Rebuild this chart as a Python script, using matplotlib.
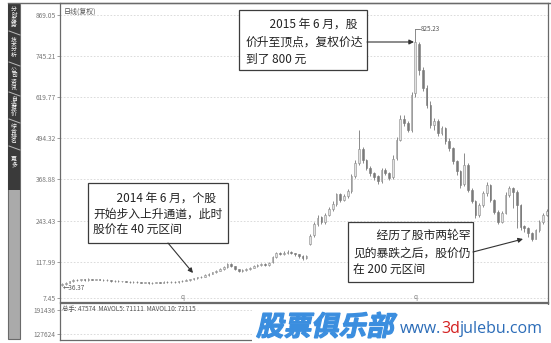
import matplotlib
matplotlib.use('Agg')
import matplotlib.pyplot as plt
import numpy as np
from matplotlib.patches import Rectangle, PathPatch, FancyArrowPatch
from matplotlib.lines import Line2D
from matplotlib.textpath import TextPath
from matplotlib.font_manager import FontProperties
from matplotlib.transforms import Affine2D

plt.rcParams['font.family'] = ['Noto Sans CJK SC', 'DejaVu Sans']

# 日线(复权) K线数据，从图上读出的估计值
opens = [48, 50, 54, 58, 63, 61, 64, 62, 65, 63,
         64, 63, 61, 62, 59, 60, 58, 59, 57, 56,
         57, 55, 54, 55, 53, 54, 55, 54, 56, 55,
         57, 56, 58, 60, 61, 64, 67, 70, 73, 78,
         82, 86, 91, 96, 101, 111, 104, 95, 89, 92,
         96, 100, 105, 107, 112, 109, 116, 132, 144, 141,
         146, 148, 144, 141, 136, 130, 172, 198, 232, 253,
         238, 260, 278, 293, 324, 306, 318, 334, 380, 420,
         460, 428, 402, 387, 378, 364, 398, 388, 376, 434,
         490, 554, 541, 520, 631, 781, 702, 648, 596, 535,
         546, 510, 525, 484, 463, 424, 393, 356, 412, 337,
         302, 260, 291, 326, 352, 306, 270, 240, 266, 321,
         341, 331, 290, 226, 220, 205, 188, 214, 240, 260]
closes = [50, 54, 58, 62, 61, 64, 62, 65, 63, 64,
          63, 61, 62, 59, 60, 58, 59, 57, 56, 57,
          55, 54, 55, 53, 54, 55, 54, 56, 55, 57,
          56, 58, 60, 61, 64, 67, 70, 73, 78, 82,
          86, 91, 96, 101, 110, 104, 95, 89, 92, 96,
          100, 105, 107, 112, 109, 114, 131, 144, 141, 146,
          148, 144, 141, 136, 130, 134, 196, 232, 252, 238,
          260, 278, 293, 323, 306, 318, 333, 378, 420, 462,
          427, 402, 387, 377, 364, 397, 387, 374, 432, 488,
          554, 540, 520, 626, 786, 702, 648, 596, 535, 546,
          510, 525, 484, 463, 424, 393, 352, 412, 337, 302,
          260, 291, 326, 352, 306, 270, 240, 265, 321, 341,
          331, 290, 225, 220, 205, 188, 214, 240, 260, 272]
highs = [52, 56, 60, 64, 65, 66, 65, 67, 66, 66,
         66, 64, 64, 63, 61, 61, 60, 60, 58, 59,
         58, 56, 57, 56, 56, 57, 57, 58, 58, 59,
         58, 60, 62, 64, 66, 69, 72, 76, 80, 84,
         88, 93, 98, 104, 114, 114, 106, 97, 95, 98,
         103, 108, 112, 115, 114, 118, 134, 148, 148, 152,
         154, 150, 146, 142, 138, 138, 202, 240, 260, 256,
         265, 284, 303, 328, 326, 324, 340, 386, 428, 519,
         466, 432, 408, 392, 382, 403, 402, 390, 442, 498,
         564, 566, 546, 636, 825.23, 788, 710, 656, 606, 556,
         552, 530, 528, 494, 468, 428, 398, 449, 418, 342,
         306, 296, 332, 360, 356, 310, 275, 272, 329, 347,
         346, 336, 294, 230, 224, 208, 218, 244, 265, 278]
lows = [44, 48, 52, 56, 59, 59, 60, 60, 61, 61,
        61, 59, 59, 57, 57, 56, 56, 55, 54, 54,
        53, 52, 52, 51, 51, 52, 52, 52, 53, 53,
        54, 54, 56, 58, 59, 62, 65, 68, 71, 76,
        80, 84, 89, 94, 99, 101, 92, 86, 87, 90,
        94, 98, 103, 105, 106, 106, 114, 129, 137, 138,
        142, 140, 136, 130, 124, 126, 168, 192, 226, 232,
        234, 256, 272, 288, 300, 302, 313, 328, 372, 412,
        420, 396, 380, 368, 356, 358, 382, 367, 370, 427,
        484, 532, 512, 514, 620, 685, 638, 586, 524, 518,
        500, 504, 476, 456, 414, 382, 343, 350, 330, 296,
        252, 255, 285, 318, 300, 264, 232, 235, 262, 315,
        282, 220, 214, 208, 192, 182, 186, 210, 234, 256]

price_ticks = [7.45, 117.99, 243.43, 368.88, 494.32, 619.77, 745.21, 869.05]
vol_ticks = [127624, 191436]
tabs = ['分时走势', '技术分析', '公司资讯', '自选报价', '综合排名', '更多']

W, H = 551, 343
fig = plt.figure(figsize=(W / 100, H / 100), dpi=100)


def fx(px):
    return px / W


def fy(py):
    return 1 - py / H


# ---- 主图 K线 ----
ax = fig.add_axes([fx(60), fy(302), fx(548) - fx(60), fy(3) - fy(302)])
x = np.arange(len(closes))
o = np.array(opens, dtype=float)
c = np.array(closes, dtype=float)
up = c >= o
kc = '#8a8a8a'
ax.vlines(x, lows, highs, color=kc, lw=0.7, zorder=2)
ax.bar(x[up], np.maximum(c - o, 1.5)[up], bottom=o[up], width=0.45,
       facecolor='#e2e2e2', edgecolor=kc, lw=0.4, zorder=3)
ax.bar(x[~up], (o - c)[~up], bottom=c[~up], width=0.45,
       facecolor='#7a7a7a', edgecolor='#7a7a7a', lw=0.4, zorder=3)
ax.set_xlim(-0.55, len(closes) - 0.7)
ax.set_ylim(-4.6, 905.6)
ax.set_xticks([])
ax.set_yticks(price_ticks)
ax.set_yticklabels([f'{v:.2f}' for v in price_ticks])
ax.tick_params(axis='y', length=2, width=0.5, pad=1, labelsize=4.8,
               colors='#777777')
ax.yaxis.grid(True, ls=(0, (2, 2)), color='#d6d6d6', lw=0.6)
for s in ax.spines.values():
    s.set_color('#6a6a6a')
    s.set_linewidth(0.9)

ax.text(0.5, 880, '日线(复权)', fontsize=5, color='#555555', va='center')
ax.text(0.3, lows[0] - 6, '←36.37', fontsize=4.6, color='#555555', va='center')
imax = int(np.argmax(highs))
ax.plot([imax, imax + 1.2], [highs[imax], highs[imax]], color='#555555', lw=0.5)
ax.text(imax + 1.4, highs[imax], f'{highs[imax]:.2f}', fontsize=4.6,
        color='#555555', va='center')
for qx in [32, 94]:
    ax.text(qx, 12, 'q', fontsize=4.5, color='#777777', ha='center', va='center')

# ---- 成交量副图 ----
vax = fig.add_axes([fx(60), fy(340), fx(548) - fx(60), fy(303) - fy(340)])
vax.set_xlim(0, 1)
vax.set_ylim(112300, 209300)
vax.set_xticks([])
vax.set_yticks(vol_ticks)
vax.set_yticklabels([str(v) for v in vol_ticks])
vax.tick_params(axis='y', length=2, width=0.5, pad=1, labelsize=4.8,
                colors='#777777')
vax.yaxis.grid(True, ls=(0, (2, 2)), color='#d6d6d6', lw=0.6)
for s in vax.spines.values():
    s.set_color('#6a6a6a')
    s.set_linewidth(0.9)
vax.text(0.004, 0.83, '总手: 47574  MAVOL5: 71111  MAVOL10: 72115',
         transform=vax.transAxes, fontsize=4.6, color='#555555', va='center')

# ---- 外框和左侧标签栏 ----
fig.add_artist(Line2D([fx(8), 1], [fy(3), fy(3)], transform=fig.transFigure,
                      color='#6a6a6a', lw=1))
fig.add_artist(Rectangle((fx(8), fy(339)), fx(12), fy(4) - fy(339),
                         transform=fig.transFigure, facecolor='#aaaaaa',
                         edgecolor='#6a6a6a', lw=0.8))
fig.add_artist(Rectangle((fx(8), fy(190)), fx(12), fy(4) - fy(190),
                         transform=fig.transFigure, facecolor='#3a3a3a',
                         edgecolor='none'))
tab_y = [18, 48, 79, 107, 134, 162]
for ty, t in zip(tab_y, tabs):
    fig.text(fx(14), fy(ty), '\n'.join(t), fontsize=4.2, color='white',
             ha='center', va='center', linespacing=1.0)
for sy in [33, 64, 94, 121, 148]:
    fig.add_artist(Line2D([fx(9), fx(20)], [fy(sy - 2), fy(sy + 2)],
                          transform=fig.transFigure, color='#bbbbbb', lw=0.7))


# ---- 说明文字框 ----
def box(x0, y0, x1, y1):
    fig.add_artist(Rectangle((fx(x0), fy(y1)), fx(x1) - fx(x0), fy(y0) - fy(y1),
                             transform=fig.transFigure, facecolor='white',
                             edgecolor='#3c3c3c', lw=0.9, zorder=10))


def lines(tx, ys, texts):
    for ty, t in zip(ys, texts):
        fig.text(fx(tx), fy(ty), t, fontsize=8.5, color='#222222',
                 ha='left', va='center', zorder=11)


def arrow(x0, y0, x1, y1):
    fig.add_artist(FancyArrowPatch((fx(x0), fy(y0)), (fx(x1), fy(y1)),
                                   transform=fig.transFigure, arrowstyle='-|>',
                                   mutation_scale=7, color='#333333', lw=0.8,
                                   shrinkA=0, shrinkB=0, zorder=11))


box(239, 10, 367, 70)
lines(246, [24, 42, 59], ['\u3000\u30002015 年 6 月，股', '价升至顶点，复权价达', '到了 800 元'])
arrow(367, 42, 414, 42)

box(88, 183, 228, 243)
lines(93, [198, 214, 230], ['\u3000\u30002014 年 6 月，个股', '开始步入上升通道，此时', '股价在 40 元区间'])
arrow(168, 243, 193, 273)

box(348, 222, 473, 282)
lines(353, [235, 253, 270], ['\u3000\u3000经历了股市两轮罕', '见的暴跌之后，股价仍', '在 200 元区间'])
arrow(473, 252, 523, 239)

# ---- 水印 ----
fig.add_artist(Rectangle((fx(252), fy(343)), fx(551) - fx(252), fy(305) - fy(343),
                         transform=fig.transFigure, facecolor='white',
                         edgecolor='none', zorder=12))
tp = TextPath((0, 0), '股票俱乐部', size=0.275,
              prop=FontProperties(family='Noto Sans CJK SC', weight='bold'))
tr = Affine2D().skew_deg(12, 0).translate(2.56, 0.075) + fig.dpi_scale_trans
fig.add_artist(PathPatch(tp, transform=tr, facecolor='#3b8edf',
                         edgecolor='#3b8edf', lw=0.9, zorder=13))
t1 = fig.text(fx(400), fy(333), 'www.', fontsize=11.5, color='#2b6cb8',
              family=['Open Sans', 'DejaVu Sans'], va='baseline', zorder=13)
t2 = fig.text(0, 0, '3d', fontsize=11.5, color='#d42020',
              family=['Open Sans', 'DejaVu Sans'], va='baseline', zorder=13)
t3 = fig.text(0, 0, 'julebu.com', fontsize=11.5, color='#2b6cb8',
              family=['Open Sans', 'DejaVu Sans'], va='baseline', zorder=13)
fig.canvas.draw()
r = fig.canvas.get_renderer()
b1 = t1.get_window_extent(r)
t2.set_position((b1.x1 / fig.bbox.width, fy(333)))
b2 = t2.get_window_extent(r)
t3.set_position((b2.x1 / fig.bbox.width, fy(333)))

fig.savefig('out.png', dpi=100)
